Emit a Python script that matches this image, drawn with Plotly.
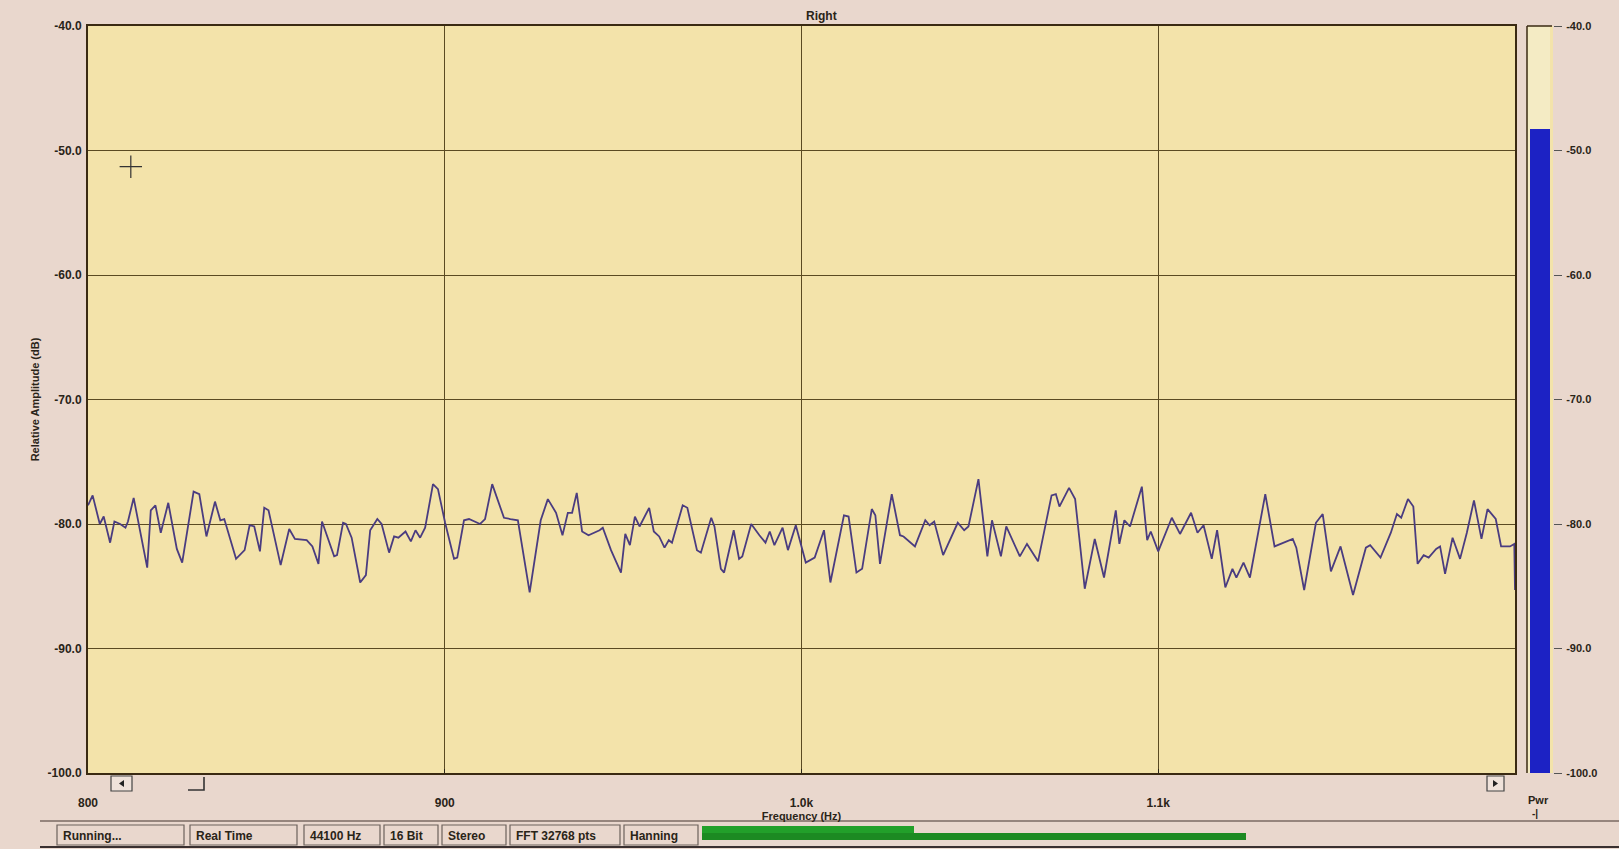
import plotly.graph_objects as go

# ---------------- data ----------------
freq_hz = [
    800.0, 801.3, 803.3, 804.4, 806.2, 807.4, 809.0, 810.5, 811.2, 812.8,
    816.6, 817.6, 818.9, 820.4, 822.5, 824.9, 826.4, 828.0, 829.6, 831.2,
    833.2, 835.6, 837.1, 838.2, 841.5, 843.9, 845.3, 846.6, 848.2, 849.4,
    850.6, 854.0, 856.4, 858.0, 861.3, 862.9, 864.6, 865.6,
    869.0, 869.8, 871.5, 872.3, 873.9, 876.3, 877.9, 879.1, 881.1, 882.3,
    884.4, 885.8, 887.0, 889.0, 890.5, 891.8, 893.1, 894.5, 896.7, 898.1,
    900.1, 902.6, 903.5, 905.4, 906.8, 909.9, 911.3, 913.3, 916.6, 918.4,
    920.5, 923.8, 926.9, 928.9, 931.2, 933.0, 934.5, 935.7, 937.0,
    938.5, 940.3, 943.4, 944.3, 946.6, 949.4, 950.6, 951.9, 953.3, 954.6,
    957.3, 958.6, 960.1, 961.6, 962.8, 963.7, 966.7, 968.0, 970.7, 971.8,
    974.7, 975.6, 977.4, 978.3, 981.0, 982.5, 983.4, 985.9, 988.2, 989.9,
    991.1, 992.4, 994.7, 996.2, 998.4, 1001.2, 1003.7, 1006.3, 1008.1, 1009.8,
    1011.9, 1013.2,
    1015.4, 1017.0, 1019.7, 1020.7, 1022.0, 1025.3, 1027.6, 1028.6, 1031.8, 1034.7,
    1035.9, 1037.2, 1039.7, 1043.8, 1045.6, 1046.8, 1049.6, 1052.1, 1053.4, 1055.9,
    1057.4, 1061.2, 1063.2, 1066.3, 1068.9, 1070.1, 1071.3, 1072.3, 1075.0, 1076.7,
    1079.4, 1082.2, 1084.8, 1088.1, 1089.1, 1090.5, 1092.1, 1095.4, 1096.9, 1097.9,
    1100.0,
    1103.8, 1106.1, 1109.2, 1111.0, 1112.7, 1115.0, 1116.5, 1118.8, 1120.8, 1121.9,
    1123.9, 1125.7, 1130.0, 1132.6, 1135.2, 1137.7, 1138.7, 1140.9, 1144.2, 1146.1,
    1148.4, 1151.1, 1154.6, 1158.2, 1159.4, 1162.3, 1165.2, 1166.9, 1168.1, 1170.0,
    1171.5, 1172.7, 1174.4, 1175.8, 1177.9, 1179.0, 1180.4, 1182.5, 1184.6, 1186.5,
    1188.5, 1190.6, 1192.3, 1194.6, 1196.1, 1198.6, 1199.8, 1200.0,
]
level_db = [
    -78.5, -77.7, -80.0, -79.4, -81.5, -79.8, -80.0, -80.3, -79.8, -77.9,
    -83.5, -78.9, -78.5, -80.7, -78.3, -82.0, -83.1, -80.2, -77.4, -77.6,
    -81.0, -78.2, -79.7, -79.6, -82.8, -82.1, -80.1, -80.2, -82.2, -78.7,
    -78.9, -83.3, -80.4, -81.2, -81.3, -81.8, -83.2, -79.8,
    -82.6, -82.5, -79.9, -80.0, -81.1, -84.7, -84.1, -80.5, -79.6, -80.0,
    -82.3, -81.0, -81.1, -80.6, -81.4, -80.5, -81.1, -80.3, -76.8, -77.2,
    -79.9, -82.8, -82.7, -79.7, -79.6, -80.0, -79.6, -76.8, -79.5, -79.6,
    -79.7, -85.5, -79.7, -78.0, -79.1, -80.9, -79.1, -79.1, -77.5,
    -80.6, -80.9, -80.5, -80.3, -82.1, -83.9, -80.8, -81.7, -79.4, -80.2,
    -78.7, -80.6, -81.0, -81.9, -81.3, -81.5, -78.5, -78.7, -82.1, -82.3,
    -79.5, -80.2, -83.6, -83.9, -80.5, -82.8, -82.6, -80.0, -80.9, -81.5,
    -80.6, -81.7, -80.3, -82.1, -80.1, -83.1, -82.7, -80.5, -84.7, -82.4,
    -79.3, -79.4,
    -83.9, -83.6, -78.8, -79.3, -83.2, -77.6, -80.9, -81.0, -81.8, -79.7,
    -80.1, -79.8, -82.5, -79.9, -80.5, -80.2, -76.4, -82.6, -79.7, -82.6,
    -80.2, -82.6, -81.6, -83.0, -79.5, -77.7, -77.6, -78.6, -77.1, -78.0,
    -85.2, -81.2, -84.3, -78.9, -81.6, -79.7, -80.2, -77.0, -81.3, -80.6,
    -82.2,
    -79.5, -80.8, -79.1, -80.7, -80.1, -82.8, -80.5, -85.1, -83.6, -84.3,
    -83.1, -84.3, -77.6, -81.8, -81.5, -81.2, -81.9, -85.3, -79.9, -79.2,
    -83.8, -81.8, -85.7, -81.9, -81.7, -82.7, -80.7, -79.2, -79.5, -78.0,
    -78.6, -83.2, -82.5, -82.7, -82.0, -81.8, -84.0, -81.1, -82.8, -80.7,
    -78.1, -81.2, -78.8, -79.6, -81.8, -81.8, -81.6, -85.3,
]
cursor_freq = [812.0]
cursor_db = [-51.3]
meter_db = -48.3

y_tick_vals = [-100, -90, -80, -70, -60, -50, -40]
y_tick_text = ["-100.0", "-90.0", "-80.0", "-70.0", "-60.0", "-50.0", "-40.0"]
x_tick_vals = [800, 900, 1000, 1100]
x_tick_text = ["800", "900", "1.0k", "1.1k"]
status_labels = ["Running...", "Real Time", "44100 Hz", "16 Bit", "Stereo",
                 "FFT 32768 pts", "Hanning"]

# ---------------- geometry / style ----------------
W, H = 1619, 849
L, R, T, B = 88, 66, 26, 76
PW, PH = W - L - R, H - T - B


def px(x):
    return (x - L) / PW


def py(y):
    return (H - B - y) / PH


FONT = "Liberation Sans, Arial, sans-serif"
INK = "#2a2418"
GRID = "#5a4a22"
PLOT_BG = "#f3e3aa"
PAPER = "#e9d7cd"

fig = go.Figure()

fig.add_trace(go.Scatter(
    x=freq_hz, y=level_db, mode="lines",
    line=dict(color="#4a3c80", width=1.8),
    showlegend=False, hoverinfo="x+y",
))
fig.add_trace(go.Scatter(
    x=cursor_freq, y=cursor_db, mode="markers",
    marker=dict(symbol="cross-thin", size=16, line=dict(color="#333", width=1.2)),
    showlegend=False, hoverinfo="skip",
))

# power meter
fig.add_trace(go.Bar(
    x=[0.5], y=[meter_db - (-100)], base=[-100], width=[0.8],
    xaxis="x2", yaxis="y2",
    marker=dict(color="#1c22c4", line=dict(width=0)),
    showlegend=False, hoverinfo="skip",
))

main_end = (1515 - L) / PW
meter_start = (1527 - L) / PW

fig.update_layout(
    width=W, height=H,
    margin=dict(l=L, r=R, t=T, b=B),
    paper_bgcolor=PAPER, plot_bgcolor=PLOT_BG,
    font=dict(family=FONT, color=INK, size=12),
    xaxis=dict(
        domain=[0, main_end], range=[800, 1200],
        tickvals=x_tick_vals, ticktext=x_tick_text,
        tickfont=dict(size=12, weight="bold"),
        ticks="inside", ticklen=4, tickcolor=INK,
        ticklabelstandoff=18,
        showgrid=True, gridcolor=GRID, gridwidth=1.4,
        showline=True, linecolor="#3a2a12", linewidth=2, mirror=True,
        zeroline=False,
        title=dict(text="Frequency (Hz)", font=dict(size=11, weight="bold"), standoff=0),
    ),
    yaxis=dict(
        range=[-100, -40],
        tickvals=y_tick_vals, ticktext=y_tick_text,
        tickfont=dict(size=12, weight="bold"),
        ticks="", ticklabelstandoff=2,
        showgrid=True, gridcolor=GRID, gridwidth=1.4,
        showline=True, linecolor="#3a2a12", linewidth=2, mirror=True,
        zeroline=False,
        title=dict(text="Relative Amplitude (dB)", font=dict(size=11, weight="bold"), standoff=6),
    ),
    xaxis2=dict(domain=[meter_start, 1.0], range=[0, 1], visible=False, fixedrange=True),
    yaxis2=dict(
        anchor="x2", side="right", range=[-100, -40],
        tickvals=y_tick_vals, ticktext=y_tick_text,
        tickfont=dict(size=11, weight="bold"),
        ticks="outside", ticklen=8, tickcolor="#555", tickwidth=1,
        ticklabelstandoff=2,
        showgrid=False, zeroline=False,
        showline=False,
    ),
    bargap=0,
)

shapes = []
annotations = []


def label(text, x, y, size=12, xanchor="center", bold=True):
    annotations.append(dict(text=text, xref="paper", yref="paper",
                            x=px(x), y=py(y), showarrow=False,
                            xanchor=xanchor, yanchor="middle",
                            font=dict(size=size, weight="bold" if bold else "normal",
                                      color=INK)))


# meter box (pale background + left border)
shapes.append(dict(type="rect", xref="paper", yref="paper", layer="below",
                   x0=px(1527), x1=px(1550), y0=py(H - B), y1=py(T),
                   fillcolor="#f4ebc4", line=dict(width=0)))
shapes.append(dict(type="line", xref="paper", yref="paper",
                   x0=px(1527), x1=px(1527), y0=py(H - B), y1=py(T),
                   line=dict(color="#3a2a12", width=1.5)))
shapes.append(dict(type="line", xref="paper", yref="paper",
                   x0=px(1527), x1=px(1552), y0=py(T), y1=py(T),
                   line=dict(color="#3a2a12", width=1.5)))

# title
label("Right", 822, 16)

# scrollbar under the plot
SB_Y0, SB_Y1 = 776, 791
shapes.append(dict(type="rect", xref="paper", yref="paper",
                   x0=px(111), x1=px(132), y0=py(SB_Y1), y1=py(SB_Y0),
                   fillcolor="#efe2da", line=dict(color="#444", width=1.2)))
shapes.append(dict(type="path", xref="paper", yref="paper",
                   path=f"M {px(119)} {py(783.5)} L {px(124)} {py(780)} L {px(124)} {py(787)} Z",
                   fillcolor="#222", line=dict(width=0)))
shapes.append(dict(type="path", xref="paper", yref="paper",
                   path=f"M {px(204)} {py(777)} L {px(204)} {py(790)} L {px(188)} {py(790)}",
                   line=dict(color="#333", width=1.6)))
shapes.append(dict(type="rect", xref="paper", yref="paper",
                   x0=px(1487), x1=px(1504), y0=py(SB_Y1), y1=py(SB_Y0),
                   fillcolor="#efe2da", line=dict(color="#444", width=1.2)))
shapes.append(dict(type="path", xref="paper", yref="paper",
                   path=f"M {px(1498)} {py(783.5)} L {px(1493)} {py(780)} L {px(1493)} {py(787)} Z",
                   fillcolor="#222", line=dict(width=0)))

# Pwr label under meter
label("Pwr", 1526, 800, size=11, xanchor="left")
label("-|", 1530, 813, size=10, xanchor="left")

# status bar separator
shapes.append(dict(type="line", xref="paper", yref="paper",
                   x0=px(40), x1=px(W), y0=py(821), y1=py(821),
                   line=dict(color="#7a6a62", width=1.5)))
shapes.append(dict(type="line", xref="paper", yref="paper",
                   x0=px(40), x1=px(W), y0=py(847), y1=py(847),
                   line=dict(color="#3a3030", width=2)))

# status bar boxes
status_boxes = [(57, 184), (190, 297), (304, 380), (384, 438), (442, 506),
                (510, 620), (624, 698)]
for (x0, x1), text in zip(status_boxes, status_labels):
    shapes.append(dict(type="rect", xref="paper", yref="paper",
                       x0=px(x0), x1=px(x1), y0=py(845), y1=py(825),
                       fillcolor="rgba(0,0,0,0)", line=dict(color="#6d625c", width=1.2)))
    label(text, x0 + 4, 835.5, size=12, xanchor="left")

# level indicator in status bar
shapes.append(dict(type="rect", xref="paper", yref="paper",
                   x0=px(702), x1=px(914), y0=py(833), y1=py(826),
                   fillcolor="#22a02a", line=dict(width=0)))
shapes.append(dict(type="rect", xref="paper", yref="paper",
                   x0=px(702), x1=px(1246), y0=py(840), y1=py(833),
                   fillcolor="#1c8a22", line=dict(width=0)))

fig.update_layout(shapes=shapes, annotations=annotations)

fig.write_html(
    "out.html",
    config={"displayModeBar": False},
    post_script="document.body.style.margin='0';document.body.style.overflow='hidden';",
)
